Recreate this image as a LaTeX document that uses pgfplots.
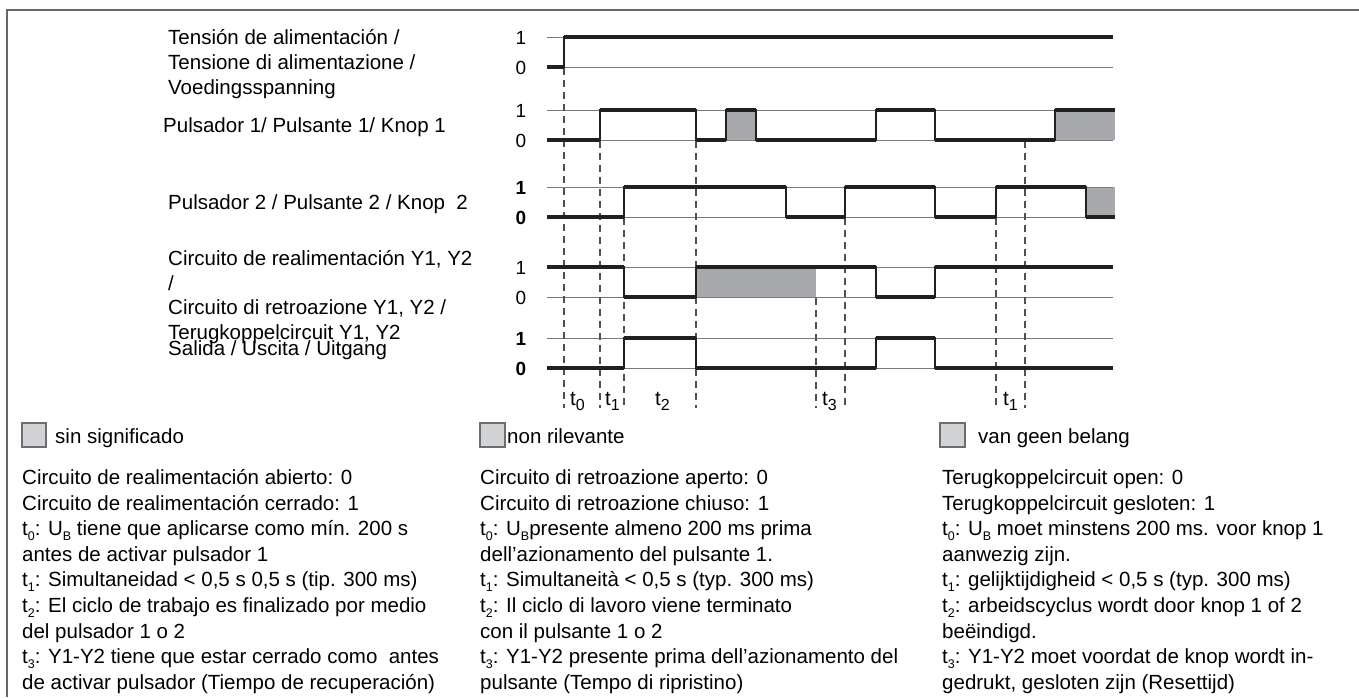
\documentclass[border=0pt]{standalone}
\usepackage{fontspec}
\setmainfont{Liberation Sans}
\usepackage{pgfplots}
\pgfplotsset{compat=1.18}
\usepackage{pgfplotstable}
\definecolor{sig}{HTML}{231F20}
\definecolor{nf}{HTML}{A7A9AC}
\definecolor{refc}{HTML}{7A7A7A}
\definecolor{lg}{HTML}{D1D3D4}
\definecolor{lb}{HTML}{6D6E71}
\definecolor{fr}{HTML}{666666}
\definecolor{dsh}{HTML}{505050}
\newcommand{\sub}[1]{\raisebox{-5pt}{\fontsize{12.5}{12.5}\selectfont #1}}
\newcommand{\tsub}[1]{\raisebox{-5pt}{\fontsize{16}{16}\selectfont #1}}

% signal tables: t = time (px), s = logic level
\pgfplotstableread{
t s
547 0
564 1
1113 1
}\rowA
\pgfplotstableread{
t s
547 0
600 1
696 0
726 1
756 0
876 1
935 0
1055 1
1115 1
}\rowB
\pgfplotstableread{
t s
547 0
624 1
786 0
845 1
935 0
996 1
1086 0
1115 0
}\rowC
\pgfplotstableread{
t s
547 1
624 0
696 1
876 0
935 1
1113 1
}\rowD
\pgfplotstableread{
t s
547 0
624 1
696 0
876 1
935 0
1113 0
}\rowE

\begin{document}
\begin{tikzpicture}
\begin{axis}[x=1pt,y=1pt,y dir=reverse,xmin=0,xmax=1359,ymin=0,ymax=697,
  hide axis, clip=false,
  thinsig/.style={const plot mark left, sig, line width=1.2pt, no marks},
  thicksig/.style={jump mark left, sig, line width=3.4pt, no marks},
  refl/.style={refc, line width=1pt, no marks},
  dl/.style={dsh, line width=1.2pt, dash pattern=on 7pt off 5pt, no marks},
  gb/.style={fill=nf, draw=none, no marks}]

% frame
\addplot[fr, line width=2pt, no marks] coordinates {(7,697) (7,10) (1359,10)};

% "not relevant" areas
\addplot[gb] coordinates {(726,110) (756,110) (756,140) (726,140)} -- cycle;
\addplot[gb] coordinates {(1055,110) (1115,110) (1115,140) (1055,140)} -- cycle;
\addplot[gb] coordinates {(1086,187) (1115,187) (1115,217) (1086,217)} -- cycle;
\addplot[gb] coordinates {(696,267) (816,267) (816,297) (696,297)} -- cycle;

% reference lines
\addplot[refl] coordinates {(547,37) (1113,37)};
\addplot[refl] coordinates {(547,67) (1113,67)};
\addplot[refl] coordinates {(547,110) (1113,110)};
\addplot[refl] coordinates {(547,140) (1113,140)};
\addplot[refl] coordinates {(547,187) (1113,187)};
\addplot[refl] coordinates {(547,217) (1113,217)};
\addplot[refl] coordinates {(547,267) (1113,267)};
\addplot[refl] coordinates {(547,297) (1113,297)};
\addplot[refl] coordinates {(547,338) (1113,338)};
\addplot[refl] coordinates {(547,368) (1113,368)};

% dashed time markers
\addplot[dl] coordinates {(564,68) (564,408)};
\addplot[dl] coordinates {(600,141) (600,408)};
\addplot[dl] coordinates {(624,218) (624,408)};
\addplot[dl] coordinates {(696,141) (696,408)};
\addplot[dl] coordinates {(816,298) (816,408)};
\addplot[dl] coordinates {(845,218) (845,408)};
\addplot[dl] coordinates {(996,218) (996,408)};
\addplot[dl] coordinates {(1025,141) (1025,408)};

% signals
\addplot[thinsig] table[x=t, y expr=67-30*\thisrow{s}] {\rowA};
\addplot[thicksig] table[x=t, y expr=67-30*\thisrow{s}] {\rowA};
\addplot[thinsig] table[x=t, y expr=140-30*\thisrow{s}] {\rowB};
\addplot[thicksig] table[x=t, y expr=140-30*\thisrow{s}] {\rowB};
\addplot[thinsig] table[x=t, y expr=217-30*\thisrow{s}] {\rowC};
\addplot[thicksig] table[x=t, y expr=217-30*\thisrow{s}] {\rowC};
\addplot[thinsig] table[x=t, y expr=297-30*\thisrow{s}] {\rowD};
\addplot[thicksig] table[x=t, y expr=297-30*\thisrow{s}] {\rowD};
\addplot[thinsig] table[x=t, y expr=368-30*\thisrow{s}] {\rowE};
\addplot[thicksig] table[x=t, y expr=368-30*\thisrow{s}] {\rowE};

% legend boxes
\addplot[fill=lg, draw=lb, line width=1.3pt, no marks] coordinates {(22,423) (46,423) (46,447) (22,447)} -- cycle;
\addplot[fill=lg, draw=lb, line width=1.3pt, no marks] coordinates {(480,423) (505,423) (505,447) (480,447)} -- cycle;
\addplot[fill=lg, draw=lb, line width=1.3pt, no marks] coordinates {(940,423) (965,423) (965,447) (940,447)} -- cycle;

% signal names
\begin{scope}[every node/.style={anchor=base west, inner sep=0pt, font=\fontsize{20.5}{24}\selectfont}]
\node at (168,44) {Tensión\ de\ alimentación /};
\node at (168,69) {Tensione di alimentazione /};
\node at (168,94) {Voedingsspanning};
\node at (163,132) {Pulsador 1/ Pulsante 1/ Knop 1};
\node at (168,209) {Pulsador 2 / Pulsante 2 / Knop\ \ 2};
\node at (168,265) {Circuito\ de\ realimentación Y1, Y2};
\node at (168,290) {/};
\node at (168,314) {Circuito di retroazione Y1, Y2 /};
\node at (168,339) {Terugkoppelcircuit Y1, Y2};
\node at (168,355) {Salida / Uscita / Uitgang};
\end{scope}

% level labels
\begin{scope}[every node/.style={anchor=base, inner sep=0pt, font=\fontsize{19}{21}\selectfont}]
\node at (521,44) {1};
\node at (521,74) {0};
\node at (521,117) {1};
\node at (521,147) {0};
\node at (521,194) {\bfseries 1};
\node at (521,224) {\bfseries 0};
\node at (521,274) {1};
\node at (521,304) {0};
\node at (521,345) {\bfseries 1};
\node at (521,375) {\bfseries 0};
\end{scope}

% time labels
\begin{scope}[every node/.style={anchor=base west, inner sep=0pt, font=\fontsize{20.5}{22}\selectfont}]
\node at (570,405) {t\tsub{0}};
\node at (605,405) {t\tsub{1}};
\node at (655,405) {t\tsub{2}};
\node at (822,405) {t\tsub{3}};
\node at (1003,405) {t\tsub{1}};
\end{scope}

% explanatory text
\begin{scope}[every node/.style={anchor=base west, inner sep=0pt, font=\fontsize{20.5}{22}\selectfont}]
\node at (55,443) {sin significado};
\node at (507,443) {non rilevante};
\node at (978,443) {van geen belang};

\node at (22,484.5) {Circuito de realimentación abierto: 0};
\node at (22,510.1) {Circuito de realimentación cerrado: 1};
\node at (22,535.7) {t\sub{0}: U\sub{B} tiene que aplicarse como mín. 200 s};
\node at (22,561.3) {antes de activar pulsador 1};
\node at (22,586.9) {t\sub{1}: Simultaneidad < 0,5 s 0,5 s (tip. 300 ms)};
\node at (22,612.5) {t\sub{2}: El ciclo de trabajo es finalizado por medio};
\node at (22,638.1) {del pulsador 1 o 2};
\node at (22,663.7) {t\sub{3}: Y1-Y2 tiene que estar cerrado como\ \ antes};
\node at (22,689.3) {de activar pulsador (Tiempo de recuperación)};

\node at (480,484.5) {Circuito di retroazione aperto: 0};
\node at (480,510.1) {Circuito di retroazione chiuso: 1};
\node at (480,535.7) {t\sub{0}: U\sub{B}presente almeno 200 ms prima};
\node at (480,561.3) {dell’azionamento del pulsante 1.};
\node at (480,586.9) {t\sub{1}: Simultaneità < 0,5 s (typ. 300 ms)};
\node at (480,612.5) {t\sub{2}: Il ciclo di lavoro viene terminato};
\node at (480,638.1) {con il pulsante 1 o 2};
\node at (480,663.7) {t\sub{3}: Y1-Y2 presente prima dell’azionamento del};
\node at (480,689.3) {pulsante (Tempo di ripristino)};

\node at (942,484.5) {Terugkoppelcircuit open: 0};
\node at (942,510.1) {Terugkoppelcircuit gesloten: 1};
\node at (942,535.7) {t\sub{0}: U\sub{B} moet minstens 200 ms. voor knop 1};
\node at (942,561.3) {aanwezig zijn.};
\node at (942,586.9) {t\sub{1}: gelijktijdigheid < 0,5 s (typ. 300 ms)};
\node at (942,612.5) {t\sub{2}: arbeidscyclus wordt door knop 1 of 2};
\node at (942,638.1) {beëindigd.};
\node at (942,663.7) {t\sub{3}: Y1-Y2 moet voordat de knop wordt in-};
\node at (942,689.3) {gedrukt, gesloten zijn (Resettijd)};
\end{scope}
\end{axis}
\pgfresetboundingbox
\useasboundingbox (0,0) rectangle (1359pt,697pt);
\end{tikzpicture}
\end{document}
